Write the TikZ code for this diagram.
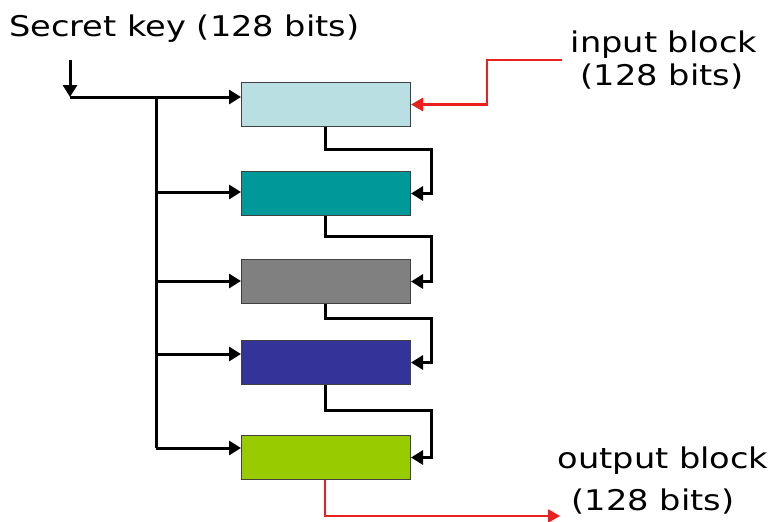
\documentclass[tikz,border=0pt]{standalone}
\usepackage{fontspec}
\setmainfont[FakeStretch=1.18]{DejaVu Sans}
\usetikzlibrary{arrows.meta,positioning}
\definecolor{rndA}{HTML}{B9DFE3}
\definecolor{rndB}{HTML}{009999}
\definecolor{rndC}{HTML}{808080}
\definecolor{rndD}{HTML}{333399}
\definecolor{rndE}{HTML}{99CC00}
\definecolor{flowred}{HTML}{E8201E}
\tikzset{
  roundbox/.style={draw=black!75, line width=1pt, minimum width=169pt, minimum height=44pt, inner sep=0pt, anchor=north west},
  wire/.style={line width=3pt, -{Triangle[length=12pt,width=14pt]}},
  plainwire/.style={line width=3pt},
  redwire/.style={draw=flowred, line width=2.6pt, -{Triangle[length=12pt,width=13pt]}},
  lbl/.style={font=\fontsize{28.5}{32}\selectfont, inner sep=0pt}
}
\begin{document}
\begin{tikzpicture}[x=1pt,y=-1pt]
\useasboundingbox (0,0) rectangle (769,522);
% cipher rounds
\node[roundbox, fill=rndA] (r1) at (241,82) {};
\node[roundbox, fill=rndB] (r2) at (241,171) {};
\node[roundbox, fill=rndC] (r3) at (241,259) {};
\node[roundbox, fill=rndD] (r4) at (241,340) {};
\node[roundbox, fill=rndE] (r5) at (241,435) {};
% labels
\node[lbl, anchor=base west] (key) at (9,36) {Secret key (128 bits)};
\node[lbl, anchor=base] (inp1) at (664,52) {input block};
\node[lbl, anchor=base] (inp2) at (662,85) {(128 bits)};
\node[lbl, anchor=base] (out1) at (663,468) {output block};
\node[lbl, anchor=base] (out2) at (653,510) {(128 bits)};
% key distribution
\coordinate (kt) at (70,60);
\coordinate (kc) at (70,97);
\draw[wire] (kt) -- (kc);
\draw[wire] (kc) -- (r1.west |- kc);
\coordinate (bt) at (156,97);
\coordinate (bb) at (156,448);
\draw[plainwire] (bt) -- (bb);
\foreach \r/\y in {r2/192, r3/281, r4/354, r5/448}
  \draw[wire] (156,\y) -- (\r.west |- 0,\y);
% round-to-round chaining
\foreach \a/\b/\y in {r1/r2/149, r2/r3/236, r3/r4/318, r4/r5/410}
  \draw[wire] ([xshift=-1pt]\a.south) |- (431,\y) |- (\b.east);
% input and output
\coordinate (ia) at (562,60);
\draw[redwire] (ia) -- (487,60) |- (r1.east);
\coordinate (oa) at (560,516);
\draw[redwire] ([xshift=-1pt]r5.south) |- (oa);
\end{tikzpicture}
\end{document}
